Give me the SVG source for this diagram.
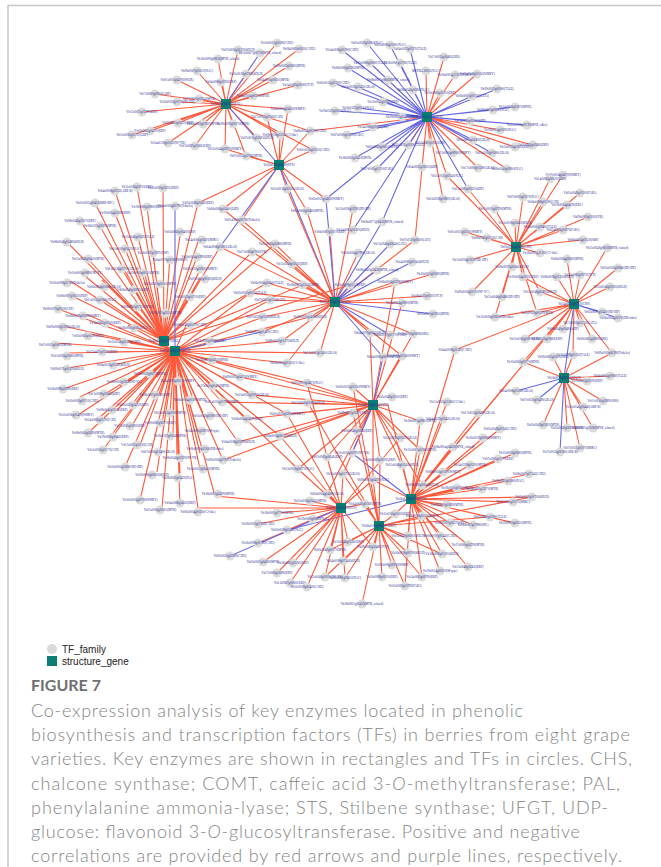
<svg xmlns="http://www.w3.org/2000/svg" width="661" height="867" viewBox="0 0 661 867">
<style>
.r{fill:none;stroke:#ff5a3c;stroke-width:1.1}
.p{fill:none;stroke:#6868e6;stroke-width:1.1}
.t circle{fill:#dcdcdc}
.t text,.h text{font-family:"Liberation Serif",serif;font-size:3.1px;fill:#27278f;text-anchor:middle}
.h rect{fill:#0b7d73}
.lg{font-family:"Liberation Sans",Arial,sans-serif;font-size:10px;fill:#222}
.cap{font-family:Lato,"Open Sans",sans-serif;font-size:18px;font-weight:300;fill:#858585}
.fig{font-family:Lato,"Open Sans",sans-serif;font-size:16px;font-weight:bold;fill:#707070}
</style>
<rect width="661" height="867" fill="#fff"/>
<path d="M8 867V5.5H661" fill="none" stroke="#c8c8c8" stroke-width="1.5"/>
<g id="edges">
<path class="r" d="M226 104L277 43M226 104L299 49M226 104L238 50M226 104L218 59M226 104L289 66M226 104L197 71M226 104L246 74M226 104L177 80M226 104L221 82M226 104L273 80M226 104L298 85M226 104L155 94M226 104L199 99M226 104L177 102M226 104L253 96M226 104L142 112M226 104L288 109M226 104L267 117M226 104L178 123M226 104L203 124M226 104L233 124M226 104L150 131M226 104L132 135M226 104L280 135M226 104L257 138M226 104L310 131M226 104L168 143M226 104L195 146M226 104L225 149M226 104L246 156M226 104L313 150"/>
<path class="p" d="M226 104L260 53M226 104L279 165"/>
<path class="r" d="M279 165L288 109M279 165L267 117M279 165L280 135M279 165L310 131M279 165L246 156M279 165L313 150M279 165L225 149M279 165L287 189M279 165L326 199M279 165L223 209M279 165L242 220M279 165L198 203M279 165L307 211"/>
<path class="p" d="M279 165L335 302M279 165L220 247"/>
<path class="r" d="M427 117L444 57M427 117L426 71M427 117L455 75M427 117L477 74M427 117L440 93M427 117L500 130M427 117L533 145M427 117L515 147M427 117L408 145M427 117L430 143M427 117L422 167M427 117L478 168M427 117L507 169M427 117L415 240M427 117L443 199M427 117L447 176M427 117L310 131"/>
<path class="p" d="M427 117L367 43M427 117L390 45M427 117L342 50M427 117L410 49M427 117L370 63M427 117L400 63M427 117L348 68M427 117L333 83M427 117L388 80M427 117L358 87M427 117L413 90M427 117L383 102M427 117L358 108M427 117L335 111M427 117L402 117M427 117L373 127M427 117L347 135M427 117L382 147M427 117L355 158M427 117L493 110M427 117L527 125M427 117L470 121M427 117L453 153M427 117L492 153M427 117L473 140M427 117L515 107M427 117L497 89M427 117L472 96M427 117L326 199M427 117L353 230M427 117L382 222M427 117L468 189M427 117L377 169"/>
<path class="r" d="M335 302L307 211M335 302L353 209M335 302L330 232M335 302L415 240M335 302L275 244M335 302L252 252M335 302L358 253M335 302L292 264M335 302L433 274M335 302L267 283M335 302L395 282M335 302L350 285M335 302L303 285M335 302L250 293M335 302L270 300M335 302L427 296M335 302L402 303M335 302L310 317M335 302L263 317M335 302L262 332M335 302L282 341M335 302L370 333M335 302L413 334M335 302L320 353M335 302L402 356M335 302L287 363M335 302L223 209M335 302L242 220M335 302L220 247M335 302L287 189"/>
<path class="p" d="M335 302L382 222M335 302L390 244M335 302L412 262M335 302L377 270M335 302L433 314M335 302L390 335M335 302L383 357M335 302L326 199"/>
<path class="r" d="M164 341L115 191M164 341L137 187M164 341L163 188M164 341L95 203M164 341L115 213M164 341L147 207M164 341L198 203M164 341L80 221M164 341L100 226M164 341L67 242M164 341L138 237M164 341L180 236M164 341L200 236M164 341L125 249M164 341L153 253M164 341L170 256M164 341L197 257M164 341L88 259M164 341L122 269M164 341L143 269M164 341L200 270M164 341L85 276M164 341L67 279M164 341L102 280M164 341L133 287M164 341L157 287M164 341L200 278M164 341L72 296M164 341L100 297M164 341L137 305M164 341L160 307M164 341L187 299M164 341L303 285M164 341L350 285M164 341L267 283M164 341L275 244M164 341L252 252M164 341L220 247"/>
<path class="r" d="M175 351L58 309M175 351L83 313M175 351L187 323M175 351L63 326M175 351L100 324M175 351L128 325M175 351L85 333M175 351L55 343M175 351L130 343M175 351L67 353M175 351L100 352M175 351L205 345M175 351L67 368M175 351L113 365M175 351L207 363M175 351L63 389M175 351L80 397M175 351L100 397M175 351L120 386M175 351L157 377M175 351L173 378M175 351L213 386M175 351L160 396M175 351L192 396M175 351L133 403M175 351L78 415M175 351L100 417M175 351L117 410M175 351L173 413M175 351L203 413M175 351L133 424M175 351L162 423M175 351L88 433M175 351L113 433M175 351L173 434M175 351L198 433M175 351L103 450M175 351L140 445M175 351L160 451M175 351L200 453M175 351L177 455M175 351L125 467M175 351L157 472M175 351L180 473M175 351L200 469M175 351L140 500M175 351L162 508M175 351L180 507M175 351L198 508M175 351L215 496M175 351L240 377M175 351L252 395M175 351L222 402M175 351L247 419M175 351L238 442M175 351L223 460M175 351L250 293M175 351L270 300M175 351L263 317M175 351L282 341M175 351L287 363M175 351L310 317M175 351L320 353M175 351L280 436M175 351L287 414M175 351L307 383M175 351L373 405M175 351L298 469"/>
<path class="p" d="M175 351L175 206M175 351L262 332"/>
<path class="r" d="M516 247L563 175M516 247L550 179M516 247L523 197M516 247L580 193M516 247L543 202M516 247L567 205M516 247L495 209M516 247L588 217M516 247L515 223M516 247L540 227M516 247L563 230M516 247L465 232M516 247L487 238M516 247L583 240M516 247L540 253M516 247L470 260M516 247L512 267M516 247L523 277M516 247L472 292M516 247L502 297M516 247L540 292M516 247L495 317M516 247L447 176M516 247L468 189M516 247L537 313"/>
<path class="r" d="M574 304L607 248M574 304L567 259M574 304L618 268M574 304L557 277M574 304L580 275M574 304L610 287M574 304L537 313M574 304L580 323M574 304L563 329M574 304L525 339M574 304L547 339M574 304L592 339M574 304L540 292M574 304L523 277M574 304L495 317M574 304L455 350M574 304L573 355M574 304L612 353M574 304L411 499M574 304L422 485M574 304L523 362"/>
<path class="p" d="M574 304L602 312M574 304L618 318M574 304L564 378"/>
<path class="r" d="M564 378L573 355M564 378L553 357M564 378L610 376M564 378L587 381M564 378L583 407M564 378L603 401M564 378L543 425M564 378L567 428M564 378L593 428M564 378L580 448M564 378L612 353M564 378L523 362"/>
<path class="p" d="M564 378L516 391M564 378L537 400M564 378L560 452"/>
<path class="r" d="M373 405L240 377M373 405L307 383M373 405L353 387M373 405L252 395M373 405L222 402M373 405L308 403M373 405L388 405M373 405L287 414M373 405L353 413M373 405L247 419M373 405L420 421M373 405L280 436M373 405L357 431M373 405L400 438M373 405L238 442M373 405L420 450M373 405L327 457M373 405L380 460M373 405L402 465M373 405L298 469M373 405L223 460M373 405L343 474M373 405L373 480M373 405L422 485M373 405L327 494M373 405L370 333M373 405L413 334M373 405L402 356M373 405L402 303M373 405L395 282"/>
<path class="p" d="M373 405L383 357M373 405L352 453"/>
<path class="r" d="M411 499L447 402M411 499L478 413M411 499L443 419M411 499L500 429M411 499L483 438M411 499L453 447M411 499L515 453M411 499L498 459M411 499L470 465M411 499L443 472M411 499L529 474M411 499L508 481M411 499L482 489M411 499L457 488M411 499L532 497M411 499L513 502M411 499L447 505M411 499L490 517M411 499L515 523M411 499L473 525M411 499L450 523M411 499L420 421M411 499L420 450M411 499L402 465M411 499L422 485M411 499L395 514M411 499L422 516M411 499L408 536M411 499L440 536M411 499L468 545M411 499L442 554M411 499L440 571M411 499L468 567M411 499L422 577M411 499L405 586M411 499L455 350M411 499L388 405M411 499L373 480"/>
<path class="p" d="M411 499L352 453M411 499L287 530"/>
<path class="r" d="M341 508L327 457M341 508L298 469M341 508L343 474M341 508L373 480M341 508L327 494M341 508L310 501M341 508L277 513M341 508L365 504M341 508L258 524M341 508L313 519M341 508L287 530M341 508L348 542M341 508L330 550M341 508L373 547M341 508L263 562M341 508L293 563M341 508L343 561M341 508L277 573M341 508L345 578M341 508L325 577M341 508L290 583M341 508L307 587M341 508L258 543M341 508L215 496M341 508L198 508M341 508L307 383M341 508L287 414M341 508L280 436M341 508L400 438"/>
<path class="p" d="M341 508L230 556"/>
<path class="r" d="M379 526L365 504M379 526L395 514M379 526L422 516M379 526L348 542M379 526L408 536M379 526L373 547M379 526L408 553M379 526L392 565M379 526L422 577M379 526L382 577M379 526L345 578M379 526L405 586M379 526L362 604M379 526L380 460M379 526L373 480M379 526L343 474M379 526L357 431M379 526L353 413M379 526L330 550M379 526L325 577M379 526L343 561M379 526L532 497M379 526L490 517M379 526L353 387M379 526L308 403M379 526L442 554"/>
</g>
<g id="tfs">
<g id="t1" class="t"><circle cx="277" cy="43" r="4.5"/><text x="277" y="44.2">Vit16s0011g00180(C2H2)</text></g>
<g id="t2" class="t"><circle cx="299" cy="49" r="4.5"/><text x="299" y="50.2">Vit06s0082s00230(C2H2)</text></g>
<g id="t3" class="t"><circle cx="238" cy="50" r="4.5"/><text x="238" y="51.2">Vit07s0005g02570(bHLH)</text></g>
<g id="t4" class="t"><circle cx="260" cy="53" r="4.5"/><text x="260" y="54.2">Vit15s0007g00710(MYB_related)</text></g>
<g id="t5" class="t"><circle cx="218" cy="59" r="4.5"/><text x="218" y="60.2">Vit16s0098g00850(MYB_related)</text></g>
<g id="t6" class="t"><circle cx="289" cy="66" r="4.5"/><text x="289" y="67.2">Vit09s0002g00260(MYB)</text></g>
<g id="t7" class="t"><circle cx="197" cy="71" r="4.5"/><text x="197" y="72.2">Vit08s0007g03310(NAC)</text></g>
<g id="t8" class="t"><circle cx="246" cy="74" r="4.5"/><text x="246" y="75.2">Vit01s0010g03930(bHLH)</text></g>
<g id="t9" class="t"><circle cx="177" cy="80" r="4.5"/><text x="177" y="81.2">Vit01s0011g04700(WOX)</text></g>
<g id="t10" class="t"><circle cx="221" cy="82" r="4.5"/><text x="221" y="83.2">Vit04s0008g05760(ERF)</text></g>
<g id="t11" class="t"><circle cx="273" cy="80" r="4.5"/><text x="273" y="81.2">Vit04s0011g00310(MYB)</text></g>
<g id="t12" class="t"><circle cx="298" cy="85" r="4.5"/><text x="298" y="86.2">Vit14s0083g00580(TCP)</text></g>
<g id="t13" class="t"><circle cx="155" cy="94" r="4.5"/><text x="155" y="95.2">Vit17s0000g00930(ARF)</text></g>
<g id="t14" class="t"><circle cx="199" cy="99" r="4.5"/><text x="199" y="100.2">Vit17s0000g02650(MYB)</text></g>
<g id="t15" class="t"><circle cx="177" cy="102" r="4.5"/><text x="177" y="103.2">Vit16s0022g00770(NF-YB)</text></g>
<g id="t16" class="t"><circle cx="253" cy="96" r="4.5"/><text x="253" y="97.2">Vit06s0004g00250(MYB)</text></g>
<g id="t17" class="t"><circle cx="142" cy="112" r="4.5"/><text x="142" y="113.2">Vit15s0021g02690(ERF)</text></g>
<g id="t18" class="t"><circle cx="288" cy="109" r="4.5"/><text x="288" y="110.2">Vit06s0004g04650(WRKY)</text></g>
<g id="t19" class="t"><circle cx="267" cy="117" r="4.5"/><text x="267" y="118.2">Vit17s0000g03060(C3H)</text></g>
<g id="t20" class="t"><circle cx="178" cy="123" r="4.5"/><text x="178" y="124.2">Vit02s0033g00220(ERF)</text></g>
<g id="t21" class="t"><circle cx="203" cy="124" r="4.5"/><text x="203" y="125.2">Vit03s0063g01920(MYB)</text></g>
<g id="t22" class="t"><circle cx="233" cy="124" r="4.5"/><text x="233" y="125.2">Vit09s0070g00170(MYB)</text></g>
<g id="t23" class="t"><circle cx="150" cy="131" r="4.5"/><text x="150" y="132.2">Vit02s0025g04310(ERF)</text></g>
<g id="t24" class="t"><circle cx="132" cy="135" r="4.5"/><text x="132" y="136.2">Vit11s0016g05720(GRF)</text></g>
<g id="t25" class="t"><circle cx="280" cy="135" r="4.5"/><text x="280" y="136.2">Vit08s0058g01230(C2-like)</text></g>
<g id="t26" class="t"><circle cx="257" cy="138" r="4.5"/><text x="257" y="139.2">Vit07s0031g02610(bHLH)</text></g>
<g id="t27" class="t"><circle cx="310" cy="131" r="4.5"/><text x="310" y="132.2">Vit06s0004g08290(C2H2)</text></g>
<g id="t28" class="t"><circle cx="168" cy="143" r="4.5"/><text x="168" y="144.2">Vit14s0128g00120(NF-YB)</text></g>
<g id="t29" class="t"><circle cx="195" cy="146" r="4.5"/><text x="195" y="147.2">Vit13s0067g01360(LBD)</text></g>
<g id="t30" class="t"><circle cx="225" cy="149" r="4.5"/><text x="225" y="150.2">Vit15s0046g02870(WRKY)</text></g>
<g id="t31" class="t"><circle cx="246" cy="156" r="4.5"/><text x="246" y="157.2">Vit07s0031g02780(MYB)</text></g>
<g id="t32" class="t"><circle cx="313" cy="150" r="4.5"/><text x="313" y="151.2">Vit01s0026g02510(C2H2)</text></g>
<g id="t33" class="t"><circle cx="367" cy="43" r="4.5"/><text x="367" y="44.2">Vit05s0020g03960(NAC)</text></g>
<g id="t34" class="t"><circle cx="390" cy="45" r="4.5"/><text x="390" y="46.2">Vit05s0000g01180(NAC)</text></g>
<g id="t35" class="t"><circle cx="342" cy="50" r="4.5"/><text x="342" y="51.2">Vit14s0006g00290(C2H2)</text></g>
<g id="t36" class="t"><circle cx="410" cy="49" r="4.5"/><text x="410" y="50.2">Vit04s0023g03270(TALE)</text></g>
<g id="t37" class="t"><circle cx="444" cy="57" r="4.5"/><text x="444" y="58.2">Vit17s0053g00460(LBD)</text></g>
<g id="t38" class="t"><circle cx="370" cy="63" r="4.5"/><text x="370" y="64.2">Vit03s0088g00280(TALE)</text></g>
<g id="t39" class="t"><circle cx="400" cy="63" r="4.5"/><text x="400" y="64.2">Vit18s0001g01780(TALE)</text></g>
<g id="t40" class="t"><circle cx="348" cy="68" r="4.5"/><text x="348" y="69.2">Vit08s0000g03560(MYB)</text></g>
<g id="t41" class="t"><circle cx="426" cy="71" r="4.5"/><text x="426" y="72.2">MSTRG.18051(NAC)</text></g>
<g id="t42" class="t"><circle cx="455" cy="75" r="4.5"/><text x="455" y="76.2">Vit18s0001g12110(WRKY)</text></g>
<g id="t43" class="t"><circle cx="477" cy="74" r="4.5"/><text x="477" y="75.2">Vit05s0049g01550(WRKY)</text></g>
<g id="t44" class="t"><circle cx="333" cy="83" r="4.5"/><text x="333" y="84.2">Vit05s0015g02330(C2H2)</text></g>
<g id="t45" class="t"><circle cx="388" cy="80" r="4.5"/><text x="388" y="81.2">Vit08s0007g08660(MYB_related)</text></g>
<g id="t46" class="t"><circle cx="358" cy="87" r="4.5"/><text x="358" y="88.2">Vit04s0023g01430(GRAS)</text></g>
<g id="t47" class="t"><circle cx="497" cy="89" r="4.5"/><text x="497" y="90.2">Vit09s0002g00580(TALE)</text></g>
<g id="t48" class="t"><circle cx="440" cy="93" r="4.5"/><text x="440" y="94.2">Vit10s0003g02150(ERF)</text></g>
<g id="t49" class="t"><circle cx="413" cy="90" r="4.5"/><text x="413" y="91.2">Vit08s0040g02060(NAC)</text></g>
<g id="t50" class="t"><circle cx="472" cy="96" r="4.5"/><text x="472" y="97.2">Vit06s0061g00730(GATA)</text></g>
<g id="t51" class="t"><circle cx="383" cy="102" r="4.5"/><text x="383" y="103.2">Vit12s0035g01920(ERF)</text></g>
<g id="t52" class="t"><circle cx="358" cy="108" r="4.5"/><text x="358" y="109.2">Vit18s0122g00140(NAC)</text></g>
<g id="t53" class="t"><circle cx="335" cy="111" r="4.5"/><text x="335" y="112.2">Vit18s0122g00270(NAC)</text></g>
<g id="t54" class="t"><circle cx="515" cy="107" r="4.5"/><text x="515" y="108.2">Vit14s0006g01870(MYB)</text></g>
<g id="t55" class="t"><circle cx="493" cy="110" r="4.5"/><text x="493" y="111.2">Vit08s0000g00060(NAC)</text></g>
<g id="t56" class="t"><circle cx="402" cy="117" r="4.5"/><text x="402" y="118.2">Vit09s0002g05400(MYB)</text></g>
<g id="t57" class="t"><circle cx="470" cy="121" r="4.5"/><text x="470" y="122.2">Vit03s0180g00200(bZIP)</text></g>
<g id="t58" class="t"><circle cx="527" cy="125" r="4.5"/><text x="527" y="126.2">Vit01s0026g00720(MYB_other)</text></g>
<g id="t59" class="t"><circle cx="373" cy="127" r="4.5"/><text x="373" y="128.2">Vit14s0083g01030(ERF)</text></g>
<g id="t60" class="t"><circle cx="347" cy="135" r="4.5"/><text x="347" y="136.2">Vit07s0005g05890(FAR1)</text></g>
<g id="t61" class="t"><circle cx="500" cy="130" r="4.5"/><text x="500" y="131.2">Vit19s0014g03290(NAC)</text></g>
<g id="t62" class="t"><circle cx="473" cy="140" r="4.5"/><text x="473" y="141.2">Vit11s0016g04360(GRAS)</text></g>
<g id="t63" class="t"><circle cx="382" cy="147" r="4.5"/><text x="382" y="148.2">Vit05s0049g00810(MYB)</text></g>
<g id="t64" class="t"><circle cx="408" cy="145" r="4.5"/><text x="408" y="146.2">Vit12s0035g00390(TALE)</text></g>
<g id="t65" class="t"><circle cx="430" cy="143" r="4.5"/><text x="430" y="144.2">Vit13s0067g00150(HB)</text></g>
<g id="t66" class="t"><circle cx="533" cy="145" r="4.5"/><text x="533" y="146.2">Vit01s0010g02460(ERF)</text></g>
<g id="t67" class="t"><circle cx="515" cy="147" r="4.5"/><text x="515" y="148.2">Vit11s0016g03820(ERF)</text></g>
<g id="t68" class="t"><circle cx="453" cy="153" r="4.5"/><text x="453" y="154.2">Vit17s0000g08960(WRKY)</text></g>
<g id="t69" class="t"><circle cx="492" cy="153" r="4.5"/><text x="492" y="154.2">Vit03s0180g00500(GRAS)</text></g>
<g id="t70" class="t"><circle cx="355" cy="158" r="4.5"/><text x="355" y="159.2">Vit18s0001g10450(MYB)</text></g>
<g id="t71" class="t"><circle cx="422" cy="167" r="4.5"/><text x="422" y="168.2">Vit04s0023g02610(bZIP)</text></g>
<g id="t72" class="t"><circle cx="478" cy="168" r="4.5"/><text x="478" y="169.2">Vit17s0000g05280(GRAS)</text></g>
<g id="t73" class="t"><circle cx="507" cy="169" r="4.5"/><text x="507" y="170.2">Vit08s0040g00900(NAC)</text></g>
<g id="t74" class="t"><circle cx="377" cy="169" r="4.5"/><text x="377" y="170.2">Vit07s0005g01710(FAR1)</text></g>
<g id="t75" class="t"><circle cx="287" cy="189" r="4.5"/><text x="287" y="190.2">Vit11s0016g06530(GRAS)</text></g>
<g id="t76" class="t"><circle cx="326" cy="199" r="4.5"/><text x="326" y="200.2">Vit02s0025g04830(WRKY)</text></g>
<g id="t77" class="t"><circle cx="307" cy="211" r="4.5"/><text x="307" y="212.2">Vit03s0063g00460(MYB)</text></g>
<g id="t78" class="t"><circle cx="353" cy="209" r="4.5"/><text x="353" y="210.2">Vit12s0028g01920(HD-ZIP)</text></g>
<g id="t79" class="t"><circle cx="382" cy="222" r="4.5"/><text x="382" y="223.2">Vit06s0077g00410(MYB_related)</text></g>
<g id="t80" class="t"><circle cx="330" cy="232" r="4.5"/><text x="330" y="233.2">Vit06s0007g02170(ERF)</text></g>
<g id="t81" class="t"><circle cx="353" cy="230" r="4.5"/><text x="353" y="231.2">Vit14s0083g01110(bHLH)</text></g>
<g id="t82" class="t"><circle cx="415" cy="240" r="4.5"/><text x="415" y="241.2">Vit07s0130g00300(AP2)</text></g>
<g id="t83" class="t"><circle cx="275" cy="244" r="4.5"/><text x="275" y="245.2">Vit11s0016g02880(MYB)</text></g>
<g id="t84" class="t"><circle cx="252" cy="252" r="4.5"/><text x="252" y="253.2">Vit17s0000g07600(YB)</text></g>
<g id="t85" class="t"><circle cx="390" cy="244" r="4.5"/><text x="390" y="245.2">Vit15s0046g00640(GATA)</text></g>
<g id="t86" class="t"><circle cx="358" cy="253" r="4.5"/><text x="358" y="254.2">Vit06s0004g07900(GRAS)</text></g>
<g id="t87" class="t"><circle cx="412" cy="262" r="4.5"/><text x="412" y="263.2">Vit14s0083g00140(bHLH)</text></g>
<g id="t88" class="t"><circle cx="292" cy="264" r="4.5"/><text x="292" y="265.2">Vit15s0048g02050(ERF)</text></g>
<g id="t89" class="t"><circle cx="377" cy="270" r="4.5"/><text x="377" y="271.2">Vit08s0040g02430(MYB_related)</text></g>
<g id="t90" class="t"><circle cx="433" cy="274" r="4.5"/><text x="433" y="275.2">Vit10s0003g03180(MYB)</text></g>
<g id="t91" class="t"><circle cx="267" cy="283" r="4.5"/><text x="267" y="284.2">Vit06s0004g00440(TALE)</text></g>
<g id="t92" class="t"><circle cx="395" cy="282" r="4.5"/><text x="395" y="283.2">Vit06s0004g03290(WRKY)</text></g>
<g id="t93" class="t"><circle cx="350" cy="285" r="4.5"/><text x="350" y="286.2">Vit16s0098g01170(ERF)</text></g>
<g id="t94" class="t"><circle cx="303" cy="285" r="4.5"/><text x="303" y="286.2">Vit18s0001g13530(MYB)</text></g>
<g id="t95" class="t"><circle cx="250" cy="293" r="4.5"/><text x="250" y="294.2">Vit02s0012g00150(TALE)</text></g>
<g id="t96" class="t"><circle cx="270" cy="300" r="4.5"/><text x="270" y="301.2">Vit07s0005g03340(AP2)</text></g>
<g id="t97" class="t"><circle cx="427" cy="296" r="4.5"/><text x="427" y="297.2">Vit18s0122g00310(TCP)</text></g>
<g id="t98" class="t"><circle cx="402" cy="303" r="4.5"/><text x="402" y="304.2">Vit04s0044g00900(MYB)</text></g>
<g id="t99" class="t"><circle cx="433" cy="314" r="4.5"/><text x="433" y="315.2">Vit01s0010g03950(MYB)</text></g>
<g id="t100" class="t"><circle cx="310" cy="317" r="4.5"/><text x="310" y="318.2">Vit18s0001g14990(bHLH)</text></g>
<g id="t101" class="t"><circle cx="263" cy="317" r="4.5"/><text x="263" y="318.2">Vit07s0031g01330(bHLH)</text></g>
<g id="t102" class="t"><circle cx="262" cy="332" r="4.5"/><text x="262" y="333.2">Vit04s0044g01460(C2H2)</text></g>
<g id="t103" class="t"><circle cx="282" cy="341" r="4.5"/><text x="282" y="342.2">Vit09s0002g01370(bHLH)</text></g>
<g id="t104" class="t"><circle cx="370" cy="333" r="4.5"/><text x="370" y="334.2">Vit04s0079g00410(NAC)</text></g>
<g id="t105" class="t"><circle cx="390" cy="335" r="4.5"/><text x="390" y="336.2">Vit08s0007g00770(C2H2)</text></g>
<g id="t106" class="t"><circle cx="413" cy="334" r="4.5"/><text x="413" y="335.2">Vit13s0106g00080(SRS)</text></g>
<g id="t107" class="t"><circle cx="320" cy="353" r="4.5"/><text x="320" y="354.2">Vit13s0067g03410(GRAS)</text></g>
<g id="t108" class="t"><circle cx="402" cy="356" r="4.5"/><text x="402" y="357.2">Vit06s0009g02560(WRKY)</text></g>
<g id="t109" class="t"><circle cx="383" cy="357" r="4.5"/><text x="383" y="358.2">Vit04s0008g06000(MYB)</text></g>
<g id="t110" class="t"><circle cx="287" cy="363" r="4.5"/><text x="287" y="364.2">Vit06s0004g01110(C2-like)</text></g>
<g id="t111" class="t"><circle cx="223" cy="209" r="4.5"/><text x="223" y="210.2">Vit06s0004g05460(LBD)</text></g>
<g id="t112" class="t"><circle cx="242" cy="220" r="4.5"/><text x="242" y="221.2">Vit05s0000g00730(Trihelix)</text></g>
<g id="t113" class="t"><circle cx="220" cy="247" r="4.5"/><text x="220" y="248.2">Vit04s0008g03810(GRAS)</text></g>
<g id="t114" class="t"><circle cx="447" cy="176" r="4.5"/><text x="447" y="177.2">Vit15s0021g02540(NAC)</text></g>
<g id="t115" class="t"><circle cx="468" cy="189" r="4.5"/><text x="468" y="190.2">Vit15s0000g00320(bZIP)</text></g>
<g id="t116" class="t"><circle cx="443" cy="199" r="4.5"/><text x="443" y="200.2">Vit03s0038g00820(GRAS)</text></g>
<g id="t117" class="t"><circle cx="563" cy="175" r="4.5"/><text x="563" y="176.2">Vit06s0004g04070(WRKY)</text></g>
<g id="t118" class="t"><circle cx="550" cy="179" r="4.5"/><text x="550" y="180.2">Vit14s0083g00130(LBD)</text></g>
<g id="t119" class="t"><circle cx="523" cy="197" r="4.5"/><text x="523" y="198.2">Vit07s0005g01370(NAC)</text></g>
<g id="t120" class="t"><circle cx="580" cy="193" r="4.5"/><text x="580" y="194.2">Vit05s0049g01100(FAR1)</text></g>
<g id="t121" class="t"><circle cx="543" cy="202" r="4.5"/><text x="543" y="203.2">Vit04s0008g01280(C3H)</text></g>
<g id="t122" class="t"><circle cx="567" cy="205" r="4.5"/><text x="567" y="206.2">Vit19s0014g04290(ERC)</text></g>
<g id="t123" class="t"><circle cx="495" cy="209" r="4.5"/><text x="495" y="210.2">Vit07s0031g02790(MYB)</text></g>
<g id="t124" class="t"><circle cx="588" cy="217" r="4.5"/><text x="588" y="218.2">Vit09s0002g01030(YB)</text></g>
<g id="t125" class="t"><circle cx="515" cy="223" r="4.5"/><text x="515" y="224.2">Vit11s0016g05640(bHLH)</text></g>
<g id="t126" class="t"><circle cx="540" cy="227" r="4.5"/><text x="540" y="228.2">Vit18s0001g09400(TALE)</text></g>
<g id="t127" class="t"><circle cx="563" cy="230" r="4.5"/><text x="563" y="231.2">Vit03s0038g00970(FAR1)</text></g>
<g id="t128" class="t"><circle cx="465" cy="232" r="4.5"/><text x="465" y="233.2">Vit01s0011g02110(WRKY)</text></g>
<g id="t129" class="t"><circle cx="487" cy="238" r="4.5"/><text x="487" y="239.2">Vit08s0040g02530(C3H)</text></g>
<g id="t130" class="t"><circle cx="583" cy="240" r="4.5"/><text x="583" y="241.2">Vit06s0004g03530(SBP)</text></g>
<g id="t131" class="t"><circle cx="540" cy="253" r="4.5"/><text x="540" y="254.2">Vit18s0001g11200(C2-like)</text></g>
<g id="t132" class="t"><circle cx="607" cy="248" r="4.5"/><text x="607" y="249.2">Vit15s0048g00030(MYB_related)</text></g>
<g id="t133" class="t"><circle cx="567" cy="259" r="4.5"/><text x="567" y="260.2">Vit06s0004g08160(MYB)</text></g>
<g id="t134" class="t"><circle cx="470" cy="260" r="4.5"/><text x="470" y="261.2">Vit11s0016g02610(HD-ZIP)</text></g>
<g id="t135" class="t"><circle cx="618" cy="268" r="4.5"/><text x="618" y="269.2">Vit05s0020g00940(HD-ZIP)</text></g>
<g id="t136" class="t"><circle cx="512" cy="267" r="4.5"/><text x="512" y="268.2">Vit08s0007g06040(bHLH)</text></g>
<g id="t137" class="t"><circle cx="557" cy="277" r="4.5"/><text x="557" y="278.2">Vit06s0009g01250(bHLH)</text></g>
<g id="t138" class="t"><circle cx="523" cy="277" r="4.5"/><text x="523" y="278.2">Vit19s0014g02230(ERF)</text></g>
<g id="t139" class="t"><circle cx="580" cy="275" r="4.5"/><text x="580" y="276.2">Vit14s0083g00730(TCP)</text></g>
<g id="t140" class="t"><circle cx="610" cy="287" r="4.5"/><text x="610" y="288.2">Vit15s0046g03030(bHLH)</text></g>
<g id="t141" class="t"><circle cx="472" cy="292" r="4.5"/><text x="472" y="293.2">Vit09s0002g00710(NF-YC)</text></g>
<g id="t142" class="t"><circle cx="502" cy="297" r="4.5"/><text x="502" y="298.2">Vit15s0048g00480(HD-ZIP)</text></g>
<g id="t143" class="t"><circle cx="540" cy="292" r="4.5"/><text x="540" y="293.2">Vit15s0048g00490(bHLH)</text></g>
<g id="t144" class="t"><circle cx="602" cy="312" r="4.5"/><text x="602" y="313.2">Vit05s0020g02430(HD-ZIP)</text></g>
<g id="t145" class="t"><circle cx="618" cy="318" r="4.5"/><text x="618" y="319.2">Vit06s0004g02570(HB-other)</text></g>
<g id="t146" class="t"><circle cx="495" cy="317" r="4.5"/><text x="495" y="318.2">Vit12s0028g00850(HB-other)</text></g>
<g id="t147" class="t"><circle cx="537" cy="313" r="4.5"/><text x="537" y="314.2">Vit05s0029g00530(MYB)</text></g>
<g id="t148" class="t"><circle cx="580" cy="323" r="4.5"/><text x="580" y="324.2">Vit17s0000g03230(GATA)</text></g>
<g id="t149" class="t"><circle cx="563" cy="329" r="4.5"/><text x="563" y="330.2">Vit08s0040g00480(bZIP)</text></g>
<g id="t150" class="t"><circle cx="525" cy="339" r="4.5"/><text x="525" y="340.2">Vit11s0016g00800(ERF)</text></g>
<g id="t151" class="t"><circle cx="547" cy="339" r="4.5"/><text x="547" y="340.2">Vit11s0016g00860(ERF)</text></g>
<g id="t152" class="t"><circle cx="592" cy="339" r="4.5"/><text x="592" y="340.2">Vit09s0002g06890(SRS)</text></g>
<g id="t153" class="t"><circle cx="612" cy="353" r="4.5"/><text x="612" y="354.2">Vit09s0002g06290(Trihelix)</text></g>
<g id="t154" class="t"><circle cx="573" cy="355" r="4.5"/><text x="573" y="356.2">Vit16s0098g01130(TALE)</text></g>
<g id="t155" class="t"><circle cx="553" cy="357" r="4.5"/><text x="553" y="358.2">Vit09s0002g05800(SRS)</text></g>
<g id="t156" class="t"><circle cx="455" cy="350" r="4.5"/><text x="455" y="351.2">Vit04s0008g01260(C2H2)</text></g>
<g id="t157" class="t"><circle cx="523" cy="362" r="4.5"/><text x="523" y="363.2">Vit10s0003g00770(MYB)</text></g>
<g id="t158" class="t"><circle cx="610" cy="376" r="4.5"/><text x="610" y="377.2">Vit06s0004g00960(TALE)</text></g>
<g id="t159" class="t"><circle cx="587" cy="381" r="4.5"/><text x="587" y="382.2">Vit10s0003g02190(ERF)</text></g>
<g id="t160" class="t"><circle cx="516" cy="391" r="4.5"/><text x="516" y="392.2">Vit04s0008g05260(GRAS)</text></g>
<g id="t161" class="t"><circle cx="537" cy="400" r="4.5"/><text x="537" y="401.2">Vit07s0031g00490(GRAS)</text></g>
<g id="t162" class="t"><circle cx="583" cy="407" r="4.5"/><text x="583" y="408.2">Vit15s0046g00440(ARR-B)</text></g>
<g id="t163" class="t"><circle cx="603" cy="401" r="4.5"/><text x="603" y="402.2">Vit11s0016g03890(SRS)</text></g>
<g id="t164" class="t"><circle cx="543" cy="425" r="4.5"/><text x="543" y="426.2">Vit05s0049g01020(MYB)</text></g>
<g id="t165" class="t"><circle cx="567" cy="428" r="4.5"/><text x="567" y="429.2">Vit05s0049g00930(MYB)</text></g>
<g id="t166" class="t"><circle cx="593" cy="428" r="4.5"/><text x="593" y="429.2">Vit05s0020g03580(MYB_related)</text></g>
<g id="t167" class="t"><circle cx="580" cy="448" r="4.5"/><text x="580" y="449.2">Vit07s0031g01070(MIKC)</text></g>
<g id="t168" class="t"><circle cx="560" cy="452" r="4.5"/><text x="560" y="453.2">Vit17s0053g00580(ARR-B)</text></g>
<g id="t169" class="t"><circle cx="447" cy="402" r="4.5"/><text x="447" y="403.2">Vit15s0021g01560(C2-like)</text></g>
<g id="t170" class="t"><circle cx="478" cy="413" r="4.5"/><text x="478" y="414.2">Vit17s0053g00430(GRAS)</text></g>
<g id="t171" class="t"><circle cx="443" cy="419" r="4.5"/><text x="443" y="420.2">Vit04s0023g00450(GRAS)</text></g>
<g id="t172" class="t"><circle cx="500" cy="429" r="4.5"/><text x="500" y="430.2">Vit05s0049g00240(C2H2)</text></g>
<g id="t173" class="t"><circle cx="483" cy="438" r="4.5"/><text x="483" y="439.2">Vit16s0022g00900(WRKY)</text></g>
<g id="t174" class="t"><circle cx="453" cy="447" r="4.5"/><text x="453" y="448.2">Vit06s0004g04620(MYB_related)</text></g>
<g id="t175" class="t"><circle cx="515" cy="453" r="4.5"/><text x="515" y="454.2">Vit12s0028g00600(MYB)</text></g>
<g id="t176" class="t"><circle cx="498" cy="459" r="4.5"/><text x="498" y="460.2">Vit07s0005g01770(ERF)</text></g>
<g id="t177" class="t"><circle cx="470" cy="465" r="4.5"/><text x="470" y="466.2">Vit14s0128g01590(MYB)</text></g>
<g id="t178" class="t"><circle cx="443" cy="472" r="4.5"/><text x="443" y="473.2">Vit09s0002g01190(WRKY)</text></g>
<g id="t179" class="t"><circle cx="529" cy="474" r="4.5"/><text x="529" y="475.2">Vit08s0007g07540(C2H2)</text></g>
<g id="t180" class="t"><circle cx="508" cy="481" r="4.5"/><text x="508" y="482.2">Vit09s0002g02080(NAC)</text></g>
<g id="t181" class="t"><circle cx="482" cy="489" r="4.5"/><text x="482" y="490.2">Vit18s0001g13270(MYB)</text></g>
<g id="t182" class="t"><circle cx="457" cy="488" r="4.5"/><text x="457" y="489.2">Vit18s0001g03500(NAC)</text></g>
<g id="t183" class="t"><circle cx="532" cy="497" r="4.5"/><text x="532" y="498.2">Vit05s0020g00750(bHLH)</text></g>
<g id="t184" class="t"><circle cx="513" cy="502" r="4.5"/><text x="513" y="503.2">Vit07s0031g01370(MIKC)</text></g>
<g id="t185" class="t"><circle cx="447" cy="505" r="4.5"/><text x="447" y="506.2">Vit18s0001g03690(MYB)</text></g>
<g id="t186" class="t"><circle cx="490" cy="517" r="4.5"/><text x="490" y="518.2">Vit03s0038g01980(TALE)</text></g>
<g id="t187" class="t"><circle cx="515" cy="523" r="4.5"/><text x="515" y="524.2">Vit19s0000g00350(MYB)</text></g>
<g id="t188" class="t"><circle cx="473" cy="525" r="4.5"/><text x="473" y="526.2">Vit08s0007g07980(SPL)</text></g>
<g id="t189" class="t"><circle cx="450" cy="523" r="4.5"/><text x="450" y="524.2">Vit08s0007g06270(SPL)</text></g>
<g id="t190" class="t"><circle cx="240" cy="377" r="4.5"/><text x="240" y="378.2">Vit09s0002g04570(WRKY)</text></g>
<g id="t191" class="t"><circle cx="307" cy="383" r="4.5"/><text x="307" y="384.2">Vit01s0010g04670(NAC)</text></g>
<g id="t192" class="t"><circle cx="353" cy="387" r="4.5"/><text x="353" y="388.2">Vit02s0025g01250(WRKY)</text></g>
<g id="t193" class="t"><circle cx="252" cy="395" r="4.5"/><text x="252" y="396.2">Vit16s0022g00910(GRAS)</text></g>
<g id="t194" class="t"><circle cx="222" cy="402" r="4.5"/><text x="222" y="403.2">Vit01s0011g01790(WRKY)</text></g>
<g id="t195" class="t"><circle cx="308" cy="403" r="4.5"/><text x="308" y="404.2">Vit17s0000g05890(bHLH)</text></g>
<g id="t196" class="t"><circle cx="392" cy="397" r="4.5"/><text x="392" y="398.2">Vit05s0049g01520(ERF)</text></g>
<g id="t197" class="t"><circle cx="287" cy="414" r="4.5"/><text x="287" y="415.2">Vit01s0010g03900(WRKY)</text></g>
<g id="t198" class="t"><circle cx="353" cy="413" r="4.5"/><text x="353" y="414.2">Vit09s0002g03870(ERF)</text></g>
<g id="t199" class="t"><circle cx="247" cy="419" r="4.5"/><text x="247" y="420.2">Vit06s0004g04070(ERF)</text></g>
<g id="t200" class="t"><circle cx="420" cy="421" r="4.5"/><text x="420" y="422.2">Vit18s0001g09850(MYB)</text></g>
<g id="t201" class="t"><circle cx="280" cy="436" r="4.5"/><text x="280" y="437.2">Vit06s0004g08150(bHLH)</text></g>
<g id="t202" class="t"><circle cx="357" cy="431" r="4.5"/><text x="357" y="432.2">Vit08s0040g03040(ERF)</text></g>
<g id="t203" class="t"><circle cx="400" cy="438" r="4.5"/><text x="400" y="439.2">Vit12s0028g00320(GRAS)</text></g>
<g id="t204" class="t"><circle cx="238" cy="442" r="4.5"/><text x="238" y="443.2">Vit04s0008g03890(bHLH)</text></g>
<g id="t205" class="t"><circle cx="420" cy="450" r="4.5"/><text x="420" y="451.2">Vit13s0067g02360(MYB)</text></g>
<g id="t206" class="t"><circle cx="352" cy="453" r="4.5"/><text x="352" y="454.2">Vit11s0016g02070(NF-YB)</text></g>
<g id="t207" class="t"><circle cx="327" cy="457" r="4.5"/><text x="327" y="458.2">Vit07s0005g00140(ERF)</text></g>
<g id="t208" class="t"><circle cx="380" cy="460" r="4.5"/><text x="380" y="461.2">Vit06s0009g00760(ERF)</text></g>
<g id="t209" class="t"><circle cx="402" cy="465" r="4.5"/><text x="402" y="466.2">Vit15s0048g01140(bHLH)</text></g>
<g id="t210" class="t"><circle cx="298" cy="469" r="4.5"/><text x="298" y="470.2">Vit12s0028g00770(NAC)</text></g>
<g id="t211" class="t"><circle cx="223" cy="460" r="4.5"/><text x="223" y="461.2">Vit09s0002g07930(Trihelix)</text></g>
<g id="t212" class="t"><circle cx="343" cy="474" r="4.5"/><text x="343" y="475.2">Vit11s0016g01770(GRAS)</text></g>
<g id="t213" class="t"><circle cx="373" cy="480" r="4.5"/><text x="373" y="481.2">Vit09s0002g04290(NAC)</text></g>
<g id="t214" class="t"><circle cx="422" cy="485" r="4.5"/><text x="422" y="486.2">Vit09s0002g00640(bHLH)</text></g>
<g id="t215" class="t"><circle cx="327" cy="494" r="4.5"/><text x="327" y="495.2">Vit06s0004g04580(GRAS)</text></g>
<g id="t217" class="t"><circle cx="310" cy="501" r="4.5"/><text x="310" y="502.2">Vit11s0016g05450(MYB)</text></g>
<g id="t218" class="t"><circle cx="277" cy="513" r="4.5"/><text x="277" y="514.2">Vit18s0001g07700(MYB)</text></g>
<g id="t219" class="t"><circle cx="365" cy="504" r="4.5"/><text x="365" y="505.2">Vit14s0083g01160(MYB)</text></g>
<g id="t220" class="t"><circle cx="258" cy="524" r="4.5"/><text x="258" y="525.2">Vit18s0001g01920(C2H2)</text></g>
<g id="t221" class="t"><circle cx="313" cy="519" r="4.5"/><text x="313" y="520.2">Vit19s0000g00660(NAC)</text></g>
<g id="t222" class="t"><circle cx="395" cy="514" r="4.5"/><text x="395" y="515.2">Vit11s0016g01330(ERF)</text></g>
<g id="t223" class="t"><circle cx="422" cy="516" r="4.5"/><text x="422" y="517.2">Vit04s0008g05520(bHLH)</text></g>
<g id="t224" class="t"><circle cx="287" cy="530" r="4.5"/><text x="287" y="531.2">Vit03s0038g03480(NAC)</text></g>
<g id="t225" class="t"><circle cx="348" cy="542" r="4.5"/><text x="348" y="543.2">Vit15s0046g01360(ERF)</text></g>
<g id="t226" class="t"><circle cx="408" cy="536" r="4.5"/><text x="408" y="537.2">Vit05s0049g00610(bHLH)</text></g>
<g id="t227" class="t"><circle cx="440" cy="536" r="4.5"/><text x="440" y="537.2">Vit08s0007g00440(C2H2)</text></g>
<g id="t228" class="t"><circle cx="468" cy="545" r="4.5"/><text x="468" y="546.2">Vit17s0000g04790(MYB)</text></g>
<g id="t229" class="t"><circle cx="230" cy="556" r="4.5"/><text x="230" y="557.2">Vit02s0025g02680(C2H2)</text></g>
<g id="t230" class="t"><circle cx="330" cy="550" r="4.5"/><text x="330" y="551.2">Vit05s0049g00770(MYB)</text></g>
<g id="t231" class="t"><circle cx="373" cy="547" r="4.5"/><text x="373" y="548.2">Vit09s0002g05480(TCP)</text></g>
<g id="t232" class="t"><circle cx="408" cy="553" r="4.5"/><text x="408" y="554.2">Vit16s0098g00790(bHLH)</text></g>
<g id="t233" class="t"><circle cx="442" cy="554" r="4.5"/><text x="442" y="555.2">Vit16s0098g01110(bHLH)</text></g>
<g id="t234" class="t"><circle cx="263" cy="562" r="4.5"/><text x="263" y="563.2">Vit02s0025g04280(MYB)</text></g>
<g id="t235" class="t"><circle cx="293" cy="563" r="4.5"/><text x="293" y="564.2">Vit18s0001g05160(ERF)</text></g>
<g id="t236" class="t"><circle cx="392" cy="565" r="4.5"/><text x="392" y="566.2">Vit19s0000g00990(WRKY)</text></g>
<g id="t237" class="t"><circle cx="343" cy="561" r="4.5"/><text x="343" y="562.2">Vit04s0008g07340(bHLH)</text></g>
<g id="t238" class="t"><circle cx="440" cy="571" r="4.5"/><text x="440" y="572.2">Vit19s0014g05010(M-type)</text></g>
<g id="t239" class="t"><circle cx="468" cy="567" r="4.5"/><text x="468" y="568.2">Vit15s0048g02450(ERF)</text></g>
<g id="t240" class="t"><circle cx="277" cy="573" r="4.5"/><text x="277" y="574.2">Vit17s0000g01890(ERF)</text></g>
<g id="t241" class="t"><circle cx="422" cy="577" r="4.5"/><text x="422" y="578.2">Vit14s0083g00790(ERF)</text></g>
<g id="t242" class="t"><circle cx="382" cy="577" r="4.5"/><text x="382" y="578.2">Vit16s0098g00130(ERF)</text></g>
<g id="t243" class="t"><circle cx="345" cy="578" r="4.5"/><text x="345" y="579.2">Vit18s0001g09410(NAC)</text></g>
<g id="t244" class="t"><circle cx="325" cy="577" r="4.5"/><text x="325" y="578.2">Vit15s0046g00320(NF-YB)</text></g>
<g id="t245" class="t"><circle cx="290" cy="583" r="4.5"/><text x="290" y="584.2">Vit13s0067g00500(LBD)</text></g>
<g id="t246" class="t"><circle cx="307" cy="587" r="4.5"/><text x="307" y="588.2">Vit12s0028g00420(C2H2)</text></g>
<g id="t247" class="t"><circle cx="405" cy="586" r="4.5"/><text x="405" y="587.2">Vit10s0003g03790(FAR1)</text></g>
<g id="t248" class="t"><circle cx="362" cy="604" r="4.5"/><text x="362" y="605.2">Vit18s0001g05450(MYB_related)</text></g>
<g id="t249" class="t"><circle cx="258" cy="543" r="4.5"/><text x="258" y="544.2">Vit16s0098g00780(C2H2)</text></g>
<g id="t250" class="t"><circle cx="115" cy="191" r="4.5"/><text x="115" y="192.2">Vit04s0008g02230(ARR-B)</text></g>
<g id="t251" class="t"><circle cx="137" cy="187" r="4.5"/><text x="137" y="188.2">Vit11s0016g00710(ERF)</text></g>
<g id="t252" class="t"><circle cx="163" cy="188" r="4.5"/><text x="163" y="189.2">Vit05s0020g02230(ERF)</text></g>
<g id="t253" class="t"><circle cx="95" cy="203" r="4.5"/><text x="95" y="204.2">Vit01s0010g00450(BBR-BPC)</text></g>
<g id="t254" class="t"><circle cx="115" cy="213" r="4.5"/><text x="115" y="214.2">Vit19s0014g03380(ERF)</text></g>
<g id="t255" class="t"><circle cx="147" cy="207" r="4.5"/><text x="147" y="208.2">Vit19s0000g00900(ERF)</text></g>
<g id="t256" class="t"><circle cx="175" cy="206" r="4.5"/><text x="175" y="207.2">Vit14s0083g00790(Trihelix)</text></g>
<g id="t257" class="t"><circle cx="198" cy="203" r="4.5"/><text x="198" y="204.2">Vit03s0038g03460(ERF)</text></g>
<g id="t258" class="t"><circle cx="80" cy="221" r="4.5"/><text x="80" y="222.2">Vit08s0040g02570(ERF)</text></g>
<g id="t259" class="t"><circle cx="100" cy="226" r="4.5"/><text x="100" y="227.2">Vit18s0122g00590(MYB)</text></g>
<g id="t260" class="t"><circle cx="67" cy="242" r="4.5"/><text x="67" y="243.2">Vit08s0040g01480(bHLH)</text></g>
<g id="t261" class="t"><circle cx="138" cy="237" r="4.5"/><text x="138" y="238.2">Vit15s0046g01630(TALE)</text></g>
<g id="t262" class="t"><circle cx="180" cy="232" r="4.5"/><text x="180" y="233.2">Vit03s0063g00400(ERF)</text></g>
<g id="t263" class="t"><circle cx="202" cy="240" r="4.5"/><text x="202" y="241.2">Vit14s0006g01620(MIKC)</text></g>
<g id="t264" class="t"><circle cx="125" cy="249" r="4.5"/><text x="125" y="250.2">Vit01s0010g03470(NAC)</text></g>
<g id="t265" class="t"><circle cx="153" cy="253" r="4.5"/><text x="153" y="254.2">Vit16s0022g01970(HSF)</text></g>
<g id="t266" class="t"><circle cx="170" cy="260" r="4.5"/><text x="170" y="261.2">Vit04s0079g00180(WRKY)</text></g>
<g id="t267" class="t"><circle cx="197" cy="257" r="4.5"/><text x="197" y="258.2">Vit06s0004g03990(ERF)</text></g>
<g id="t268" class="t"><circle cx="88" cy="259" r="4.5"/><text x="88" y="260.2">Vit15s0048g00430(MYB)</text></g>
<g id="t269" class="t"><circle cx="122" cy="269" r="4.5"/><text x="122" y="270.2">Vit03s0038g02710(GRAS)</text></g>
<g id="t270" class="t"><circle cx="143" cy="273" r="4.5"/><text x="143" y="274.2">Vit19s0000g00310(MYB)</text></g>
<g id="t271" class="t"><circle cx="200" cy="269" r="4.5"/><text x="200" y="270.2">Vit07s0031g02830(WRKY)</text></g>
<g id="t272" class="t"><circle cx="85" cy="273" r="4.5"/><text x="85" y="274.2">Vit10s0003g00890(NF-X1)</text></g>
<g id="t273" class="t"><circle cx="67" cy="283" r="4.5"/><text x="67" y="284.2">Vit16s0098g01780(Trihelix)</text></g>
<g id="t274" class="t"><circle cx="104" cy="287" r="4.5"/><text x="104" y="288.2">Vit06s0004g05080(GRAS)</text></g>
<g id="t275" class="t"><circle cx="133" cy="290" r="4.5"/><text x="133" y="291.2">Vit08s0040g00920(bZIP)</text></g>
<g id="t276" class="t"><circle cx="160" cy="284" r="4.5"/><text x="160" y="285.2">Vit12s0028g02300(MYB)</text></g>
<g id="t277" class="t"><circle cx="205" cy="279" r="4.5"/><text x="205" y="280.2">Vit07s0130g00310(bHLH)</text></g>
<g id="t278" class="t"><circle cx="72" cy="296" r="4.5"/><text x="72" y="297.2">Vit08s0007g00330(ERF)</text></g>
<g id="t279" class="t"><circle cx="100" cy="300" r="4.5"/><text x="100" y="301.2">Vit11s0016g01860(NAC)</text></g>
<g id="t280" class="t"><circle cx="137" cy="307" r="4.5"/><text x="137" y="308.2">Vit09s0002g07110(MYB)</text></g>
<g id="t281" class="t"><circle cx="165" cy="313" r="4.5"/><text x="165" y="314.2">Vit07s0005g03550(MYB)</text></g>
<g id="t282" class="t"><circle cx="190" cy="297" r="4.5"/><text x="190" y="298.2">Vit01s0026g01710(ERF)</text></g>
<g id="t283" class="t"><circle cx="58" cy="309" r="4.5"/><text x="58" y="310.2">Vit09s0070g00300(CPP)</text></g>
<g id="t284" class="t"><circle cx="83" cy="316" r="4.5"/><text x="83" y="317.2">Vit06s0009g00090(WRKY)</text></g>
<g id="t285" class="t"><circle cx="190" cy="325" r="4.5"/><text x="190" y="326.2">Vit08s0040g03230(C2H2)</text></g>
<g id="t286" class="t"><circle cx="63" cy="327" r="4.5"/><text x="63" y="328.2">Vit09s0002g02900(GRAS)</text></g>
<g id="t287" class="t"><circle cx="105" cy="323" r="4.5"/><text x="105" y="324.2">Vit14s0083g01020(ERF)</text></g>
<g id="t288" class="t"><circle cx="134" cy="328" r="4.5"/><text x="134" y="329.2">Vit18s0001g03850(NAC)</text></g>
<g id="t289" class="t"><circle cx="88" cy="336" r="4.5"/><text x="88" y="337.2">Vit03s0063g01280(ERF)</text></g>
<g id="t290" class="t"><circle cx="55" cy="345" r="4.5"/><text x="55" y="346.2">Vit07s0031g00060(MYB)</text></g>
<g id="t291" class="t"><circle cx="124" cy="342" r="4.5"/><text x="124" y="343.2">Vit15s0046g02230(C2H2)</text></g>
<g id="t292" class="t"><circle cx="67" cy="356" r="4.5"/><text x="67" y="357.2">Vit11s0016g05060(MYB)</text></g>
<g id="t293" class="t"><circle cx="102" cy="352" r="4.5"/><text x="102" y="353.2">Vit15s0021g02230(ERF)</text></g>
<g id="t294" class="t"><circle cx="210" cy="341" r="4.5"/><text x="210" y="342.2">Vit16s0022g00680(bZIP)</text></g>
<g id="t295" class="t"><circle cx="67" cy="369" r="4.5"/><text x="67" y="370.2">Vit09s0070g00320(bHLH)</text></g>
<g id="t296" class="t"><circle cx="113" cy="365" r="4.5"/><text x="113" y="366.2">Vit04s0023g02380(bHLH)</text></g>
<g id="t297" class="t"><circle cx="212" cy="360" r="4.5"/><text x="212" y="361.2">Vit03s0038g04230(MYB)</text></g>
<g id="t298" class="t"><circle cx="63" cy="389" r="4.5"/><text x="63" y="390.2">Vit16s0098g00990(ERF)</text></g>
<g id="t299" class="t"><circle cx="82" cy="401" r="4.5"/><text x="82" y="402.2">Vit10s0003g00710(C2H2)</text></g>
<g id="t300" class="t"><circle cx="104" cy="394" r="4.5"/><text x="104" y="395.2">Vit12s0028g03060(bZIP)</text></g>
<g id="t301" class="t"><circle cx="124" cy="382" r="4.5"/><text x="124" y="383.2">Vit18s0001g03930(NF-YA)</text></g>
<g id="t302" class="t"><circle cx="150" cy="374" r="4.5"/><text x="150" y="375.2">Vit09s0002g08370(MYB)</text></g>
<g id="t303" class="t"><circle cx="178" cy="381" r="4.5"/><text x="178" y="382.2">Vit14s0083g00330(WRKY)</text></g>
<g id="t304" class="t"><circle cx="213" cy="386" r="4.5"/><text x="213" y="387.2">Vit17s0000g01470(MYB)</text></g>
<g id="t305" class="t"><circle cx="155" cy="395" r="4.5"/><text x="155" y="396.2">Vit08s0007g00570(ERF)</text></g>
<g id="t306" class="t"><circle cx="190" cy="400" r="4.5"/><text x="190" y="401.2">Vit06s0004g01190(MYB)</text></g>
<g id="t307" class="t"><circle cx="133" cy="405" r="4.5"/><text x="133" y="406.2">Vit02s0025g04220(ERF)</text></g>
<g id="t308" class="t"><circle cx="76" cy="415" r="4.5"/><text x="76" y="416.2">Vit11s0016g01490(WRKY)</text></g>
<g id="t309" class="t"><circle cx="100" cy="420" r="4.5"/><text x="100" y="421.2">Vit14s0006g01290(C3H)</text></g>
<g id="t310" class="t"><circle cx="112" cy="410" r="4.5"/><text x="112" y="411.2">Vit08s0040g01540(ERF)</text></g>
<g id="t311" class="t"><circle cx="170" cy="413" r="4.5"/><text x="170" y="414.2">Vit03s0063g01060(MYB)</text></g>
<g id="t312" class="t"><circle cx="210" cy="416" r="4.5"/><text x="210" y="417.2">Vit05s0049g02080(HD-ZIP)</text></g>
<g id="t313" class="t"><circle cx="130" cy="426" r="4.5"/><text x="130" y="427.2">Vit07s0031g00920(ERF)</text></g>
<g id="t314" class="t"><circle cx="160" cy="423" r="4.5"/><text x="160" y="424.2">Vit09s0002g06770(ERF)</text></g>
<g id="t315" class="t"><circle cx="88" cy="433" r="4.5"/><text x="88" y="434.2">Vit08s0040g02690(MYB)</text></g>
<g id="t316" class="t"><circle cx="113" cy="437" r="4.5"/><text x="113" y="438.2">Vit19s0000g00460(ERF)</text></g>
<g id="t317" class="t"><circle cx="170" cy="436" r="4.5"/><text x="170" y="437.2">Vit18s0122g00340(MYB)</text></g>
<g id="t318" class="t"><circle cx="202" cy="431" r="4.5"/><text x="202" y="432.2">Vit04s0008g02870(M-type)</text></g>
<g id="t319" class="t"><circle cx="103" cy="450" r="4.5"/><text x="103" y="451.2">Vit11s0016g05770(C3H)</text></g>
<g id="t320" class="t"><circle cx="137" cy="445" r="4.5"/><text x="137" y="446.2">Vit15s0021g01160(C3H)</text></g>
<g id="t321" class="t"><circle cx="158" cy="452" r="4.5"/><text x="158" y="453.2">Vit07s0005g03400(GRAS)</text></g>
<g id="t322" class="t"><circle cx="205" cy="449" r="4.5"/><text x="205" y="450.2">Vit06s0009g03500(HB-other)</text></g>
<g id="t323" class="t"><circle cx="180" cy="458" r="4.5"/><text x="180" y="459.2">Vit08s0040g03370(NF-YB)</text></g>
<g id="t324" class="t"><circle cx="125" cy="467" r="4.5"/><text x="125" y="468.2">Vit10s0003g01800(HD-ZIP)</text></g>
<g id="t325" class="t"><circle cx="152" cy="475" r="4.5"/><text x="152" y="476.2">Vit19s0000g00650(bHLH)</text></g>
<g id="t326" class="t"><circle cx="178" cy="478" r="4.5"/><text x="178" y="479.2">Vit09s0002g03420(NAC)</text></g>
<g id="t327" class="t"><circle cx="203" cy="469" r="4.5"/><text x="203" y="470.2">Vit16s0022g00430(MYB)</text></g>
<g id="t328" class="t"><circle cx="140" cy="500" r="4.5"/><text x="140" y="501.2">Vit10s0003g00700(WRKY)</text></g>
<g id="t329" class="t"><circle cx="160" cy="510" r="4.5"/><text x="160" y="511.2">Vit11s0016g00510(MYB)</text></g>
<g id="t330" class="t"><circle cx="180" cy="503" r="4.5"/><text x="180" y="504.2">Vit04s0008g04520(ERF)</text></g>
<g id="t331" class="t"><circle cx="198" cy="512" r="4.5"/><text x="198" y="513.2">Vit06s0004g00350(C2-like)</text></g>
<g id="t332" class="t"><circle cx="218" cy="494" r="4.5"/><text x="218" y="495.2">Vit18s0001g04190(MYB)</text></g>
</g>
<g id="genes">
<g id="h1" class="h"><rect x="221" y="99" width="10" height="10"/><text x="226" y="105.2">Vit16s0039g01110(PAL)</text></g>
<g id="h2" class="h"><rect x="422" y="112" width="10" height="10"/><text x="427" y="118.2">Vit16s0100g01030(STS)</text></g>
<g id="h3" class="h"><rect x="274" y="160" width="10" height="10"/><text x="279" y="166.2">Vit16s0100g00880(STS)</text></g>
<g id="h4" class="h"><rect x="330" y="297" width="10" height="10"/><text x="335" y="303.2">Vit16s0100g01010(STS)</text></g>
<g id="h5" class="h"><rect x="159" y="336" width="10" height="10"/><text x="164" y="342.2">Vit16s0039g01170(PAL)</text></g>
<g id="h6" class="h"><rect x="170" y="346" width="10" height="10"/><text x="175" y="352.2">Vit16s0100g00910(STS)</text></g>
<g id="h7" class="h"><rect x="511" y="242" width="10" height="10"/><text x="516" y="248.2">Vit05s0136g00260(CHS)</text></g>
<g id="h8" class="h"><rect x="569" y="299" width="10" height="10"/><text x="574" y="305.2">Vit14s0068g00930(CHS)</text></g>
<g id="h9" class="h"><rect x="559" y="373" width="10" height="10"/><text x="564" y="379.2">Vit16s0039g02230(UFGT)</text></g>
<g id="h10" class="h"><rect x="368" y="400" width="10" height="10"/><text x="373" y="406.2">Vit16s0100g00840(STS)</text></g>
<g id="h11" class="h"><rect x="406" y="494" width="10" height="10"/><text x="411" y="500.2">Vit16s0100g00760(STS)</text></g>
<g id="h12" class="h"><rect x="336" y="503" width="10" height="10"/><text x="341" y="509.2">Vit16s0100g00920(STS)</text></g>
<g id="h13" class="h"><rect x="374" y="521" width="10" height="10"/><text x="379" y="527.2">Vit16s0100g00800(COMT)</text></g>
</g>
<g id="legend">
<circle cx="52" cy="649" r="5" fill="#d9d9d9"/>
<text class="lg" x="62" y="652.5">TF_family</text>
<rect x="47" y="656" width="10" height="10" fill="#0b7d73"/>
<text class="lg" x="62" y="665">structure_gene</text>
</g>
<g id="caption">
<text class="fig" x="31" y="691">FIGURE 7</text>
<text class="cap" x="31" y="717" textLength="492" lengthAdjust="spacing">Co-expression analysis of key enzymes located in phenolic</text>
<text class="cap" x="31" y="741" textLength="599" lengthAdjust="spacing">biosynthesis and transcription factors (TFs) in berries from eight grape</text>
<text class="cap" x="31" y="765" textLength="601" lengthAdjust="spacing">varieties. Key enzymes are shown in rectangles and TFs in circles. CHS,</text>
<text class="cap" x="31" y="790" textLength="589" lengthAdjust="spacing">chalcone synthase; COMT, caffeic acid 3-<tspan font-style="italic">O</tspan>-methyltransferase; PAL,</text>
<text class="cap" x="31" y="814" textLength="577" lengthAdjust="spacing">phenylalanine ammonia-lyase; STS, Stilbene synthase; UFGT, UDP-</text>
<text class="cap" x="31" y="838" textLength="549" lengthAdjust="spacing">glucose: flavonoid 3-<tspan font-style="italic">O</tspan>-glucosyltransferase. Positive and negative</text>
<text class="cap" x="31" y="862" textLength="591" lengthAdjust="spacing">correlations are provided by red arrows and purple lines, respectively.</text>
</g>
</svg>
